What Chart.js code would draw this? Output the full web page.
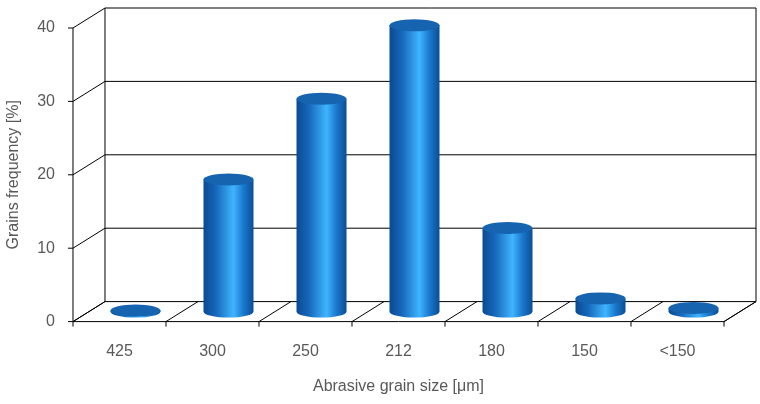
<!DOCTYPE html>
<html><head><meta charset="utf-8">
<script src="https://cdn.jsdelivr.net/npm/chart.js@4"></script>
<style>html,body{margin:0;background:#fff}#w{width:760px;height:404px}</style>
</head><body><div id="w"><canvas id="c"></canvas></div>
<script>
const categories = ['425','300','250','212','180','150','<150'];
const frequency = [0.15, 18, 29, 39, 11.4, 1.8, 0.5];
const yTicks = [0, 10, 20, 30, 40];
const DX = 32, DY = -20;

const plugin3d = {
  id: 'plugin3d',
  beforeDatasetsDraw(chart) {
    const ctx = chart.ctx, a = chart.chartArea, ys = chart.scales.y, xs = chart.scales.x;
    ctx.save();
    ctx.strokeStyle = '#000'; ctx.lineWidth = 1;
    ctx.beginPath();
    for (const t of yTicks) {
      const y = ys.getPixelForValue(t);
      ctx.moveTo(a.left, y); ctx.lineTo(a.left + DX, y + DY);
      ctx.lineTo(a.right + DX, y + DY);
      ctx.moveTo(a.left - 5, y); ctx.lineTo(a.left, y);
    }
    const yb = ys.getPixelForValue(0), yt = ys.getPixelForValue(40);
    ctx.moveTo(a.left, yb); ctx.lineTo(a.left, yt);
    ctx.moveTo(a.left + DX, yb + DY); ctx.lineTo(a.left + DX, yt + DY);
    ctx.moveTo(a.right + DX, yb + DY); ctx.lineTo(a.right + DX, yt + DY);
    // floor
    ctx.moveTo(a.left, yb); ctx.lineTo(a.right, yb); ctx.lineTo(a.right + DX, yb + DY);
    const n = categories.length, step = (a.right - a.left) / n;
    for (let i = 0; i <= n; i++) {
      const x = a.left + i * step;
      ctx.moveTo(x, yb); ctx.lineTo(x + DX, yb + DY);
      ctx.moveTo(x, yb); ctx.lineTo(x, yb + 5);
    }
    ctx.stroke();
    ctx.restore();
  },
  afterDatasetsDraw(chart) {
    const ctx = chart.ctx, meta = chart.getDatasetMeta(0);
    ctx.save();
    meta.data.forEach(bar => {
      const cx = bar.x + DX / 2, top = bar.y + DY / 2, bot = bar.base + DY / 2;
      const rx = 25, ry = 6;
      const g = ctx.createLinearGradient(cx - rx, 0, cx + rx, 0);
      g.addColorStop(0, '#0a4a92'); g.addColorStop(0.25, '#1668bb');
      g.addColorStop(0.6, '#3fb4ff'); g.addColorStop(0.8, '#1a78cc'); g.addColorStop(1, '#0b4d95');
      ctx.fillStyle = g;
      ctx.beginPath();
      ctx.moveTo(cx - rx, top);
      ctx.lineTo(cx - rx, bot);
      ctx.ellipse(cx, bot, rx, ry, 0, Math.PI, 0, true);
      ctx.lineTo(cx + rx, top);
      ctx.closePath(); ctx.fill();
      ctx.fillStyle = '#1664b0';
      ctx.beginPath(); ctx.ellipse(cx, top, rx, ry, 0, 0, Math.PI * 2); ctx.fill();
    });
    ctx.restore();
  }
};

new Chart(document.getElementById('c'), {
  type: 'bar',
  data: { labels: categories, datasets: [{ data: frequency, backgroundColor: 'rgba(0,0,0,0)' }] },
  options: {
    responsive: true, maintainAspectRatio: false, animation: false,
    layout: { padding: { top: 28, right: 36, left: 0, bottom: 4 } },
    plugins: { legend: { display: false }, tooltip: { enabled: false } },
    scales: {
      x: { grid: { display: false }, border: { display: false },
        ticks: { color: '#595959', font: { family: 'Liberation Sans', size: 16 }, padding: 12 },
        title: { display: true, text: 'Abrasive grain size [μm]', color: '#595959', font: { family: 'Liberation Sans', size: 16 } } },
      y: { min: 0, max: 40, grid: { display: false }, border: { display: false },
        afterBuildTicks: s => { s.ticks = yTicks.map(v => ({ value: v })); },
        ticks: { color: '#595959', font: { family: 'Liberation Sans', size: 16 }, padding: 10 },
        title: { display: true, text: 'Grains frequency [%]', color: '#595959', font: { family: 'Liberation Sans', size: 16 } } }
    }
  },
  plugins: [plugin3d]
});
</script></body></html>
